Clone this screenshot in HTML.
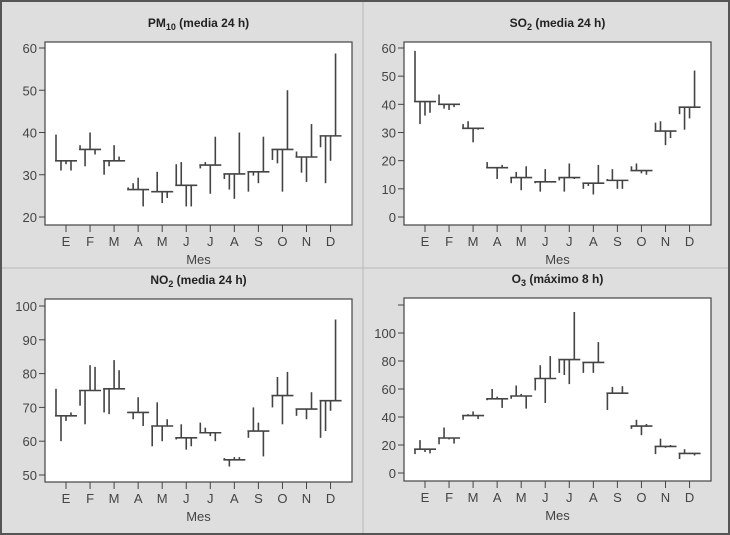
<!DOCTYPE html>
<html><head><meta charset="utf-8"><style>
body{margin:0;background:#fff}
svg{display:block;font-family:"Liberation Sans",sans-serif}
</style></head><body>
<svg id="c" width="730" height="535">
<rect x="1" y="1" width="728" height="533" fill="#dedede" stroke="#555" stroke-width="2"/>
<line x1="363" y1="2" x2="363" y2="533" stroke="#b8b8b8"/>
<line x1="2" y1="268" x2="728" y2="268" stroke="#b8b8b8"/>
</svg>
<script>
const months = ["E","F","M","A","M","J","J","A","S","O","N","D"];
const pm10Means = [33.3,36,33.3,26.5,26,27.5,32.3,30.2,30.7,36,34.2,39.2];
const pm10Vals = [[39.5,31,32.5,31],[37,32,40,34.8],[30,32,37,34.3],[27,28,29.3,22.5],[26,30.7,23.3,24.5],[32.5,33,22.5,22.5],[31.5,33,25.5,39],[29,26.5,24.3,40],[26,29.8,28,39],[33.5,32.7,26,50],[35.5,30.5,28.3,42],[36.5,28,33.3,58.7]];
const pm10Ticks = [20,30,40,50,60];
const so2Means = [41,40,31.5,17.5,14,12.5,14,12,13,16.5,30.5,39];
const so2Vals = [[59,33,36,37],[43.5,38.5,38,39],[33,34,26.5,31],[19.5,17.5,13.5,18.5],[12,16,9.5,18],[12,9,17,12.5],[13,9,19,13.5],[10,11,8,18.5],[13.5,17,10,10],[18,19,15.5,15],[33.5,34,25.5,28],[36.5,31,35,52]];
const so2Ticks = [0,10,20,30,40,50,60];
const no2Means = [67.5,75,75.5,68.5,64.5,61,62.5,54.5,63,73.5,69.5,72];
const no2Vals = [[75.5,60,66,68.5],[70.5,65,82.5,82],[68.5,68,84,81],[68.5,66.5,73,64.5],[58.5,71.5,60,66.5],[60.5,65,57.5,58.5],[65.5,64,61.5,60],[55,52.5,55.3,55.3],[61,70,65.5,55.5],[70,79,65,80.5],[67.5,69.5,66.5,74.5],[61,63,69,96]];
const no2Ticks = [50,60,70,80,90,100];
const o3Means = [17,25,41,53,55,67.5,81,79,57,33.5,19,14];
const o3Vals = [[13.5,23.5,15,14],[20.5,32.5,24,21],[38,42,44,38.5],[52,60,54.5,46.5],[53,62.5,56.5,46],[59,77,50,83.5],[71.5,70,63.5,115],[71.5,79,71.5,93.5],[45,61.5,57,62],[31.5,38,27,35],[13.5,24.5,18,20],[10,17,14.5,12.5]];
const o3Ticks = [0,20,40,60,80,100,120];
const o3TickLabels = ["0","20","40","60","80","100",""];

const NS="http://www.w3.org/2000/svg";
const svg=document.getElementById('c');
function mk(tag,attrs,parent){const e=document.createElementNS(NS,tag);for(const k in attrs)e.setAttribute(k,attrs[k]);(parent||svg).appendChild(e);return e;}

function panel(id,title,sub,rest,box,yv0,yp0,yv1,yp1,ticks,labels,means,vals){
  const g=mk('g',{});
  
  
  const [x0,y0,x1,y1]=box;
  const ys=v=>yp0+(v-yv0)*(yp1-yp0)/(yv1-yv0);
  const xm=i=>x0+21+i*24.05;
  const bg=mk('rect',{x:x0,y:y0,width:x1-x0,height:y1-y0,fill:'#fff',stroke:'#444','stroke-width':1.2},g);
  
  
  const t=mk('text',{x:(x0+x1)/2,y:y0-15,'text-anchor':'middle','font-size':12,'font-weight':'bold',fill:'#222'},g);
  
  
  t.textContent=title;
  const ts=mk('tspan',{'font-size':9,dy:3},t);ts.textContent=sub;
  const tr=mk('tspan',{dy:-3},t);tr.textContent=rest;
  ticks.forEach((v,i)=>{
    const y=ys(v);
    const l=mk('line',{x1:x0-6,x2:x0,y1:y,y2:y,stroke:'#444'},g);
    
    
    const tx=mk('text',{x:x0-8,y:y+5,'text-anchor':'end','font-size':13,fill:'#444'},g);
    
    
    tx.textContent=labels?labels[i]:String(v);
  });
  months.forEach((m,i)=>{
    const x=xm(i);
    const l=mk('line',{x1:x,x2:x,y1:y1,y2:y1+7,stroke:'#444'},g);
    
    
    const tx=mk('text',{x:x,y:y1+21,'text-anchor':'middle','font-size':13,fill:'#444'},g);
    
    
    tx.textContent=m;
    const my=ys(means[i]);
    const ml=mk('line',{x1:x-11,x2:x+11,y1:my,y2:my,stroke:'#444','stroke-width':1.6},g);
    
    
    const offs=[-10,-5,0,5];
    vals[i].forEach((v,j)=>{
      const vl=mk('line',{x1:x+offs[j],x2:x+offs[j],y1:my,y2:ys(v),stroke:'#444','stroke-width':1.6},g);
      
      
    });
  });
  const xt=mk('text',{x:(x0+x1)/2,y:y1+39,'text-anchor':'middle','font-size':13,fill:'#444'},g);
  
  
  xt.textContent='Mes';
}
panel('pm10','PM','10',' (media 24 h)',[45,42,352,225],20,217,60,48,pm10Ticks,null,pm10Means,pm10Vals);
panel('so2','SO','2',' (media 24 h)',[404,42,711,225],0,217,60,48,so2Ticks,null,so2Means,so2Vals);
panel('no2','NO','2',' (media 24 h)',[45,299,352,482],50,475,100,306,no2Ticks,null,no2Means,no2Vals);
panel('o3','O','3',' (máximo 8 h)',[404,298,711,481],0,473,100,333,o3Ticks,o3TickLabels,o3Means,o3Vals);
</script>
</body></html>
